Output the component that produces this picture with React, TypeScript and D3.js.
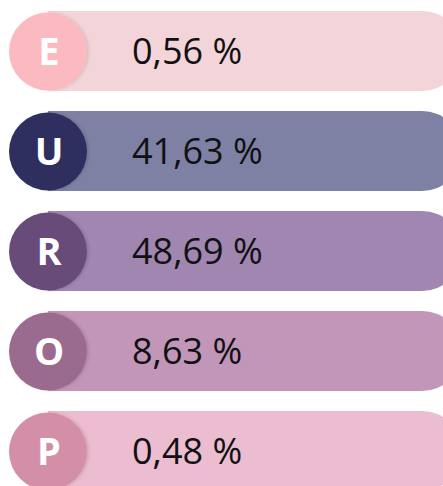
import React from "react";
import * as d3 from "d3";

const letters = ["E", "U", "R", "O", "P"];
const values = [0.56, 41.63, 48.69, 8.63, 0.48];
const pillColors = ["#f3d5d9", "#7f81a4", "#a086b0", "#c296b9", "#ecbdd0"];
const circleColors = ["#fbb9c0", "#2f2f5e", "#674c79", "#9b6a8f", "#d38fa8"];

const W = 443;
const H = 486;

export default function App() {
  const y = d3
    .scaleBand<string>()
    .domain(letters)
    .range([1, 501])
    .paddingInner(0.2)
    .paddingOuter(0.1);
  const bw = y.bandwidth();
  const r = bw / 2;
  const cx = 48;
  const pillLeft = cx;
  const pillRight = 462;
  const fmt = (v: number) => d3.format(".2f")(v).replace(".", ",") + " %";

  const pillPath = (top: number) => {
    const p = d3.path();
    p.moveTo(pillLeft, top);
    p.lineTo(pillRight - r, top);
    p.arc(pillRight - r, top + r, r, -Math.PI / 2, Math.PI / 2);
    p.lineTo(pillLeft, top + bw);
    p.closePath();
    return p.toString();
  };

  return (
    <svg
      width={W}
      height={H}
      style={{ position: "absolute", left: 0, top: 0, background: "#ffffff" }}
      fontFamily="'Open Sans', sans-serif"
    >
      <defs>
        <filter id="sh" x="-30%" y="-30%" width="160%" height="160%">
          <feDropShadow dx="2" dy="0" stdDeviation="1.5" floodColor="#000" floodOpacity="0.12" />
        </filter>
      </defs>
      {letters.map((l, i) => {
        const top = y(l)!;
        const cy = top + r;
        return (
          <g key={l}>
            <path d={pillPath(top)} fill={pillColors[i]} />
            <circle cx={cx} cy={cy + 0.5} r={r - 1} fill={circleColors[i]} filter="url(#sh)" />
            <text
              x={cx + 1}
              y={cy + 14}
              textAnchor="middle"
              fill="#ffffff"
              fontWeight={700}
              fontSize={38}
            >
              {l}
            </text>
            <text x={132} y={cy + 13} fill="#111111" fontSize={36}>
              {fmt(values[i])}
            </text>
          </g>
        );
      })}
    </svg>
  );
}
